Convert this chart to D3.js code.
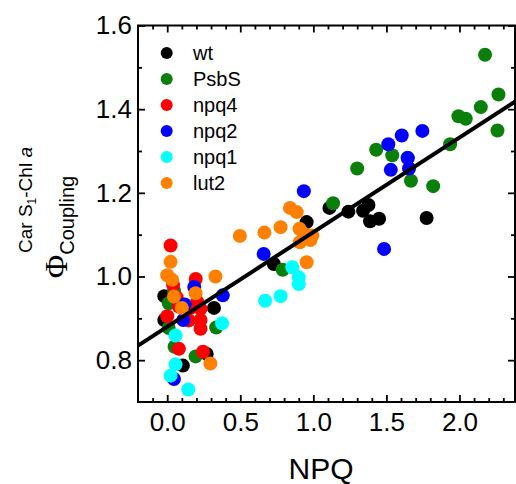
<!DOCTYPE html>
<html>
<head>
<meta charset="utf-8">
<script src="https://cdn.jsdelivr.net/npm/d3@7"></script>
<style>
  html, body { margin: 0; padding: 0; background: #fff; }
  svg { display: block; font-family: "Liberation Sans", Arial, sans-serif; }
</style>
</head>
<body>
<div id="chart"></div>
<script>
// series: [NPQ, Phi coupling]
const wt = [[-0.02, 0.953], [-0.02, 0.896], [0.107, 0.787], [0.27, 0.815], [0.32, 0.925], [0.73, 1.03],
  [0.954, 1.13], [1.11, 1.164], [1.24, 1.155], [1.34, 1.157], [1.377, 1.171], [1.388, 1.132], [1.45, 1.138], [1.775, 1.14]];
const psbs = [[0.011, 0.936], [0.01, 0.877], [0.046, 0.966], [0.05, 0.832], [0.194, 0.809], [0.335, 0.878],
  [0.79, 1.016], [1.135, 1.175], [1.30, 1.258], [1.43, 1.303], [1.54, 1.29], [1.645, 1.284], [1.668, 1.229],
  [1.82, 1.216], [1.936, 1.316], [1.993, 1.383], [2.043, 1.377], [2.146, 1.405], [2.175, 1.53], [2.26, 1.349], [2.267, 1.435]];
const npq4 = [[0.023, 1.074], [0.04, 0.98], [0.065, 0.95], [0.0, 0.905], [0.08, 0.928], [0.148, 0.895],
  [0.16, 0.925], [0.195, 0.994], [0.205, 0.94], [0.228, 0.923], [0.228, 0.896], [0.228, 0.875], [0.08, 0.827], [0.245, 0.82]];
const npq2 = [[0.046, 0.755], [0.11, 0.896], [0.12, 0.933], [0.185, 0.975], [0.38, 0.955], [0.66, 1.054],
  [0.935, 1.204], [1.484, 1.066], [1.513, 1.316], [1.53, 1.255], [1.605, 1.337], [1.646, 1.283], [1.655, 1.258], [1.746, 1.348]];
const npq1 = [[0.057, 0.859], [0.057, 0.79], [0.023, 0.763], [0.144, 0.73], [0.375, 0.888], [0.67, 0.942],
  [0.776, 0.953], [0.856, 1.022], [0.9, 0.998], [0.9, 0.982]];
const lut2 = [[0.0, 1.003], [0.023, 1.035], [0.034, 0.992], [0.046, 0.952], [0.1, 0.925], [0.194, 0.96],
  [0.33, 1.0], [0.295, 0.792], [0.497, 1.097], [0.665, 1.105], [0.776, 1.118], [0.84, 1.164], [0.886, 1.154],
  [0.905, 1.114], [0.936, 1.102], [0.993, 1.098], [0.908, 1.082], [0.98, 1.087], [0.954, 1.034]];

const seriesNames = ['wt', 'PsbS', 'npq4', 'npq2', 'npq1', 'lut2'];
const seriesData = [wt, psbs, npq4, npq2, npq1, lut2];
const seriesColors = ['#000000', '#0a800a', '#ff0000', '#0000ff', '#00ffff', '#ff8000'];

// linear fit
const fitIntercept = 0.88;
const fitSlope = 0.226;

const xMajor = [0, 0.5, 1.0, 1.5, 2.0];
const xMinor = d3.range(-1, 24).map(i => i / 10).filter(v => !xMajor.includes(v));
const yMajor = [0.8, 1.0, 1.2, 1.4, 1.6];
const yMinor = [0.9, 1.1, 1.3, 1.5];

const W = 516, H = 484;
const pL = 138, pR = 515, pT = 25.5, pB = 402;

const svg = d3.select('#chart').append('svg')
  .attr('width', W).attr('height', H);

const x = d3.scaleLinear().domain([-0.2, 2.38]).range([pL, pR]);
const y = d3.scaleLinear().domain([0.7, 1.6]).range([pB, pT]);

// Points
seriesData.forEach((pts, i) => {
  svg.append('g').selectAll('circle')
    .data(pts)
    .join('circle')
    .attr('cx', d => x(d[0]))
    .attr('cy', d => y(d[1]))
    .attr('r', 7)
    .attr('fill', seriesColors[i]);
});

// Fit line
const xd = x.domain();
svg.append('path')
  .datum(xd.map(v => [v, fitIntercept + fitSlope * v]))
  .attr('fill', 'none')
  .attr('stroke', '#000')
  .attr('stroke-width', 4)
  .attr('d', d3.line().x(d => x(d[0])).y(d => y(d[1])));

// Axes
function styleAxis(g) {
  g.select('.domain').remove();
  g.selectAll('.tick line').attr('stroke', '#000').attr('stroke-width', 1.8);
  g.selectAll('.tick text').attr('fill', '#000').attr('font-size', 26)
    .attr('font-family', '"Liberation Sans", Arial, sans-serif');
}

svg.append('g').attr('transform', `translate(0,${pB})`)
  .call(d3.axisBottom(x).tickValues(xMajor).tickSize(-7).tickPadding(11).tickFormat(d3.format('.1f')))
  .call(styleAxis);
svg.append('g').attr('transform', `translate(0,${pB})`)
  .call(d3.axisBottom(x).tickValues(xMinor).tickSize(-4).tickFormat(''))
  .call(styleAxis);
svg.append('g').attr('transform', `translate(0,${pT})`)
  .call(d3.axisTop(x).tickValues(xMajor).tickSize(-7).tickFormat(''))
  .call(styleAxis);
svg.append('g').attr('transform', `translate(0,${pT})`)
  .call(d3.axisTop(x).tickValues(xMinor).tickSize(-4).tickFormat(''))
  .call(styleAxis);

svg.append('g').attr('transform', `translate(${pL},0)`)
  .call(d3.axisLeft(y).tickValues(yMajor).tickSize(-7).tickPadding(6).tickFormat(d3.format('.1f')))
  .call(styleAxis);
svg.append('g').attr('transform', `translate(${pL},0)`)
  .call(d3.axisLeft(y).tickValues(yMinor).tickSize(-4).tickFormat(''))
  .call(styleAxis);
svg.append('g').attr('transform', `translate(${pR},0)`)
  .call(d3.axisRight(y).tickValues(yMajor).tickSize(-7).tickFormat(''))
  .call(styleAxis);
svg.append('g').attr('transform', `translate(${pR},0)`)
  .call(d3.axisRight(y).tickValues(yMinor).tickSize(-4).tickFormat(''))
  .call(styleAxis);

// Frame
svg.append('rect')
  .attr('x', pL).attr('y', pT)
  .attr('width', pR - pL).attr('height', pB - pT)
  .attr('fill', 'none').attr('stroke', '#000').attr('stroke-width', 2);

// Legend
const legend = svg.append('g');
seriesNames.forEach((name, i) => {
  const ly = 53 + i * 26;
  legend.append('circle').attr('cx', 166.7).attr('cy', ly).attr('r', 6).attr('fill', seriesColors[i]);
  legend.append('text').attr('x', 193).attr('y', ly).attr('dy', '0.35em')
    .attr('font-size', 20).attr('fill', '#000').text(name);
});

// Axis titles
svg.append('text')
  .attr('x', 321).attr('y', 479)
  .attr('text-anchor', 'middle').attr('font-size', 30).text('NPQ');

const yl1 = svg.append('text')
  .attr('transform', 'translate(32,200) rotate(-90)')
  .attr('text-anchor', 'middle').attr('font-size', 19);
yl1.append('tspan').text('Car S');
yl1.append('tspan').attr('font-size', 12).attr('dy', 4).text('1');
yl1.append('tspan').attr('dy', -4).text('-Chl ');
yl1.append('tspan').attr('font-style', 'italic').text('a');

const yl2 = svg.append('text')
  .attr('transform', 'translate(67,227) rotate(-90)')
  .attr('text-anchor', 'middle');
yl2.append('tspan').attr('font-family', '"Liberation Serif", "Times New Roman", serif')
  .attr('font-size', 32).text('Φ');
yl2.append('tspan').attr('font-size', 20).attr('dy', 7).text('Coupling');
</script>
</body>
</html>
